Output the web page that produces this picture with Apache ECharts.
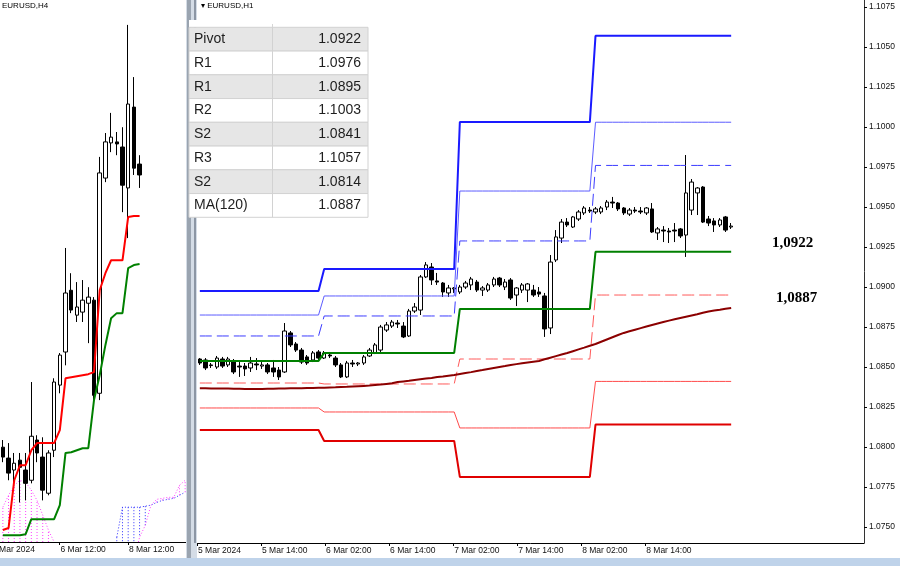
<!DOCTYPE html>
<html><head><meta charset="utf-8">
<script src="https://cdn.jsdelivr.net/npm/echarts@6/dist/echarts.min.js"></script>
<style>html,body{margin:0;padding:0;background:#fff}#c{width:900px;height:566px}</style>
</head><body><div id="c"></div>
<script>
// ---------- H1 (right panel) data: [open, close, low, high] ----------
const h1Candles = [
[1.08550,1.08525,1.08513,1.08556],[1.08544,1.08494,1.08481,1.08556],[1.08513,1.08509,1.08494,1.08525],[1.08500,1.08556,1.08488,1.08569],
[1.08550,1.08506,1.08494,1.08563],[1.08513,1.08550,1.08500,1.08563],[1.08538,1.08469,1.08456,1.08550],[1.08506,1.08500,1.08438,1.08531],
[1.08506,1.08488,1.08444,1.08525],[1.08494,1.08525,1.08469,1.08563],[1.08519,1.08513,1.08481,1.08556],[1.08506,1.08513,1.08488,1.08531],
[1.08513,1.08469,1.08456,1.08525],[1.08494,1.08469,1.08438,1.08544],[1.08481,1.08438,1.08419,1.08500],[1.08469,1.08725,1.08463,1.08775],
[1.08713,1.08638,1.08625,1.08725],[1.08644,1.08606,1.08594,1.08656],[1.08606,1.08531,1.08519,1.08619],[1.08563,1.08525,1.08513,1.08575],
[1.08544,1.08588,1.08531,1.08600],[1.08594,1.08556,1.08544,1.08606],[1.08556,1.08588,1.08550,1.08600],[1.08575,1.08569,1.08556,1.08594],
[1.08556,1.08513,1.08500,1.08569],[1.08513,1.08438,1.08431,1.08525],[1.08438,1.08525,1.08431,1.08538],[1.08525,1.08519,1.08500,1.08544],
[1.08519,1.08525,1.08506,1.08531],[1.08525,1.08563,1.08513,1.08575],[1.08569,1.08606,1.08563,1.08619],[1.08588,1.08638,1.08581,1.08650],
[1.08606,1.08750,1.08594,1.08763],[1.08731,1.08763,1.08719,1.08781],[1.08756,1.08781,1.08744,1.08794],[1.08775,1.08769,1.08744,1.08794],
[1.08756,1.08688,1.08681,1.08781],[1.08694,1.08850,1.08688,1.08863],[1.08850,1.08875,1.08838,1.08900],[1.08856,1.09063,1.08825,1.09075],
[1.09063,1.09138,1.09056,1.09156],[1.09125,1.09044,1.09013,1.09150],[1.09038,1.09031,1.09013,1.09088],[1.09025,1.08969,1.08938,1.09031],
[1.08963,1.08994,1.08938,1.09013],[1.08988,1.08994,1.08963,1.09000],[1.08969,1.09000,1.08956,1.09013],[1.09000,1.09025,1.08988,1.09038],
[1.09013,1.09050,1.08981,1.09063],[1.09031,1.08981,1.08969,1.09044],[1.08981,1.08994,1.08944,1.09006],[1.08981,1.09013,1.08969,1.09025],
[1.09013,1.09050,1.09000,1.09063],[1.09056,1.09013,1.09000,1.09063],[1.09000,1.09031,1.08981,1.09050],[1.09044,1.08931,1.08919,1.09056],
[1.08950,1.08994,1.08881,1.09000],[1.08981,1.09013,1.08963,1.09025],[1.08981,1.09019,1.08906,1.09025],[1.08981,1.08950,1.08938,1.09013],
[1.08969,1.08956,1.08938,1.09000],[1.08944,1.08738,1.08688,1.08963],[1.08744,1.09156,1.08706,1.09200],[1.09169,1.09313,1.09156,1.09356],
[1.09306,1.09406,1.09275,1.09425],[1.09406,1.09388,1.09375,1.09431],[1.09375,1.09438,1.09369,1.09444],[1.09425,1.09469,1.09413,1.09481],
[1.09463,1.09494,1.09450,1.09506],[1.09481,1.09475,1.09463,1.09500],[1.09469,1.09488,1.09456,1.09500],[1.09469,1.09494,1.09456,1.09506],
[1.09500,1.09531,1.09481,1.09544],[1.09531,1.09525,1.09494,1.09563],[1.09525,1.09488,1.09475,1.09531],[1.09494,1.09463,1.09450,1.09500],
[1.09456,1.09481,1.09444,1.09494],[1.09481,1.09475,1.09463,1.09500],[1.09475,1.09469,1.09456,1.09500],[1.09463,1.09494,1.09450,1.09500],
[1.09488,1.09344,1.09338,1.09525],[1.09338,1.09363,1.09294,1.09375],[1.09356,1.09350,1.09281,1.09381],[1.09350,1.09344,1.09275,1.09369],
[1.09356,1.09350,1.09281,1.09400],[1.09363,1.09319,1.09306,1.09369],[1.09325,1.09588,1.09188,1.09825],[1.09481,1.09656,1.09450,1.09675],
[1.09588,1.09619,1.09450,1.09625],[1.09625,1.09406,1.09400,1.09631],[1.09425,1.09400,1.09381,1.09444],[1.09413,1.09388,1.09344,1.09431],
[1.09388,1.09419,1.09375,1.09431],[1.09438,1.09356,1.09344,1.09444],[1.09375,1.09381,1.09363,1.09400]
];
const ma120 = [
1.08367,1.08367,1.08366,1.08366,1.08365,1.08365,1.08364,1.08364,1.08363,1.08363,
1.08363,1.08363,1.08364,1.08364,1.08365,1.08366,1.08367,1.08367,1.08368,1.08369,
1.08369,1.08370,1.08371,1.08372,1.08373,1.08375,1.08376,1.08378,1.08380,1.08382,
1.08384,1.08387,1.08390,1.08394,1.08398,1.08406,1.08410,1.08414,1.08419,1.08424,
1.08428,1.08432,1.08437,1.08441,1.08446,1.08450,1.08456,1.08462,1.08468,1.08475,
1.08481,1.08488,1.08494,1.08500,1.08506,1.08513,1.08518,1.08523,1.08528,1.08533,
1.08538,1.08548,1.08558,1.08568,1.08578,1.08588,1.08599,1.08610,1.08621,1.08633,
1.08644,1.08658,1.08672,1.08686,1.08700,1.08713,1.08723,1.08733,1.08743,1.08753,
1.08763,1.08772,1.08781,1.08790,1.08798,1.08806,1.08814,1.08822,1.08830,1.08839,
1.08847,1.08853,1.08858,1.08864,1.08869
];
// daily pivot levels (one value per day)
const dayStart = [0, 22, 46, 70];
const lastBar = 94;
const R3 = [1.08975, 1.09113, 1.10031, 1.1057];
const R2 = [1.08825, 1.08944, 1.09600, 1.1003];
const R1 = [1.08694, 1.08819, 1.09288, 1.0976];
const PP = [1.08538, 1.08588, 1.08863, 1.0922];
const S1 = [1.08400, 1.08394, 1.08550, 1.0895];
const S2 = [1.08244, 1.08219, 1.08119, 1.0841];
const S3 = [1.08106, 1.08038, 1.07813, 1.0814];
const lastPrice = 1.0938;
const priceTicks = [1.0750,1.0775,1.0800,1.0825,1.0850,1.0875,1.0900,1.0925,1.0950,1.0975,1.1000,1.1025,1.1050,1.1075];
const h1TickLabels = ['5 Mar 2024','5 Mar 14:00','6 Mar 02:00','6 Mar 14:00','7 Mar 02:00','7 Mar 14:00','8 Mar 02:00','8 Mar 14:00'];

// ---------- H4 (left panel) data ----------
const h4Candles = [
[1.08582,1.08553,1.08538,1.08603],[1.08550,1.08506,1.08485,1.08594],[1.08515,1.08535,1.08465,1.08565],[1.08544,1.08523,1.08420,1.08565],
[1.08515,1.08476,1.08426,1.08565],[1.08485,1.08614,1.08476,1.08773],[1.08603,1.08565,1.08538,1.08617],[1.08553,1.08456,1.08426,1.08611],
[1.08447,1.08565,1.08441,1.08573],[1.08573,1.08773,1.08553,1.08784],[1.08764,1.08852,1.08740,1.08858],[1.08861,1.09034,1.08822,1.09166],
[1.09042,1.08984,1.08975,1.09092],[1.08969,1.08993,1.08949,1.09066],[1.08978,1.09013,1.08949,1.09072],[1.09004,1.09022,1.08887,1.09051],
[1.09013,1.08734,1.08696,1.09022],[1.08740,1.09386,1.08720,1.09433],[1.09371,1.09477,1.09359,1.09503],[1.09474,1.09491,1.09447,1.09562],
[1.09477,1.09471,1.09438,1.09506],[1.09462,1.09350,1.09271,1.09520],[1.09342,1.09588,1.09195,1.09820],[1.09579,1.09400,1.09380,1.09667],
[1.09412,1.09380,1.09342,1.09438]
];
const h4Tenkan = [1.08339,1.08345,1.08485,1.08529,1.08529,1.08573,1.08594,1.08594,1.08594,1.08594,1.08632,1.08784,1.08787,1.08790,1.08793,1.08796,1.08802,1.09042,1.09092,1.09130,1.09130,1.09130,1.09257,1.09260,1.09260];
const h4Kijun = [1.08324,1.08324,1.08324,1.08324,1.08327,1.08371,1.08371,1.08371,1.08371,1.08371,1.08412,1.08565,1.08567,1.08573,1.08579,1.08579,1.08720,1.08793,1.08881,1.08960,1.08975,1.08975,1.09107,1.09116,1.09119];
// Ichimoku cloud spans (null = not drawn)
const spanA = [1.0825,1.0825,1.0825,1.0825,1.0825,1.0825,1.0825,1.0825,1.0825,1.0825,null,null,null,null,null,null,null,null,null,null,1.08318,1.08406,1.08406,1.08406,1.08406,1.08409,1.08412,1.08420,1.08426,1.08429,1.08432,1.08441,1.08450];
const spanB = [1.08406,1.08441,1.08470,1.08485,1.08479,1.08456,1.08426,1.08383,1.08339,1.08304,null,null,null,null,null,null,null,null,null,null,1.0825,1.0825,1.0825,1.0825,1.08318,1.08353,1.08412,1.08429,1.08432,1.08435,1.08435,1.08470,1.08485];
const h4TickLabels = ['5 Mar 2024','6 Mar 12:00','8 Mar 12:00'];

const tableLabels = ['Pivot','R1','R1','R2','S2','R3','S2','MA(120)'];
const tableValues = ['1.0922','1.0976','1.0895','1.1003','1.0841','1.1057','1.0814','1.0887'];

// ---------- build ----------
const H1_BANDS = 118, H1_LABEL_SLOTS = 126;
const h1Cats = []; for (let i = 0; i < H1_BANDS; i++) h1Cats.push('h' + i);
const h1LabelCats = []; for (let i = 0; i < H1_LABEL_SLOTS; i++) h1LabelCats.push(i % 12 === 0 && i / 12 < h1TickLabels.length ? h1TickLabels[i / 12] : '');
const h1LabelShow = (i) => i % 12 === 0 && i / 12 < h1TickLabels.length;
function expand(levels) {
  const out = [];
  for (let i = 0; i <= lastBar; i++) {
    let d = 0; for (let k = 0; k < dayStart.length; k++) if (i >= dayStart[k]) d = k;
    out.push(levels[d]);
  }
  return out;
}
const H4_BANDS = 33, H4_LABEL_SLOTS = 35;
const h4Cats = []; for (let i = 0; i < H4_BANDS; i++) h4Cats.push('b' + i);
const h4LabelCats = []; for (let i = 0; i < H4_LABEL_SLOTS; i++) h4LabelCats.push(i % 12 === 0 && i / 12 < h4TickLabels.length ? h4TickLabels[i / 12] : '');
const h4LabelShow = (i) => i % 12 === 0 && i / 12 < h4TickLabels.length;
const cloudData = spanA.map((a, i) => [i, a, spanB[i]]).filter(d => d[1] != null && d[2] != null);

const FONT = 'Liberation Sans';
const AXF = 8.5;
const candleStyle = {color:'#ffffff', color0:'#000000', borderColor:'#000000', borderColor0:'#000000', borderWidth:1};
function lvl(name, data, color, width, type) {
  return {name, type:'line', xAxisIndex:0, yAxisIndex:0, data: expand(data), symbol:'none', showSymbol:false,
    lineStyle:{color, width, type: type || 'solid'}, silent:true, z:3};
}

const chart = echarts.init(document.getElementById('c'), null, {renderer:'canvas'});
const option = {
  animation:false,
  backgroundColor:'#ffffff',
  textStyle:{fontFamily:FONT},
  grid:[
    {left:197, top:0, width:667, height:543, outerBoundsMode:'none', containLabel:false},
    {left:0, top:0, width:188, height:542, outerBoundsMode:'none', containLabel:false},
    {left:-9, top:0, width:194, height:542, outerBoundsMode:'none', containLabel:false}
  ],
  xAxis:[
    {type:'category', gridIndex:0, data:h1Cats, boundaryGap:true, axisLine:{show:true, lineStyle:{color:'#000', width:1}}, axisTick:{show:false}, axisLabel:{show:false}, splitLine:{show:false}},
    {type:'category', gridIndex:0, data:h1LabelCats, boundaryGap:false, position:'bottom', axisLine:{show:false},
      axisTick:{show:true, interval:(i)=>h1LabelShow(i), length:3, lineStyle:{color:'#000'}},
      axisLabel:{show:true, interval:(i)=>h1LabelShow(i), align:'left', fontSize:AXF, fontFamily:FONT, color:'#111', margin:3, padding:[0,0,0,1]}, splitLine:{show:false}},
    {type:'category', gridIndex:1, data:h4Cats, boundaryGap:true, axisLine:{show:true, lineStyle:{color:'#000', width:1}}, axisTick:{show:false}, axisLabel:{show:false}},
    {type:'category', gridIndex:2, data:h4LabelCats, boundaryGap:false, axisLine:{show:false},
      axisTick:{show:true, interval:(i)=>h4LabelShow(i), length:3, lineStyle:{color:'#000'}},
      axisLabel:{show:true, interval:(i)=>h4LabelShow(i), align:'left', fontSize:AXF, fontFamily:FONT, color:'#111', margin:3, padding:[0,0,0,1]}}
  ],
  yAxis:[
    {type:'value', gridIndex:0, position:'right', min:1.0740, max:1.10794, splitLine:{show:false},
      axisLine:{show:true, lineStyle:{color:'#333', width:1}},
      axisTick:{show:true, length:3, customValues:priceTicks, lineStyle:{color:'#000'}},
      axisLabel:{show:true, customValues:priceTicks, formatter:(v)=>v.toFixed(4), fontSize:AXF, fontFamily:FONT, color:'#111', margin:5}},
    {type:'value', gridIndex:1, min:1.08304, max:1.09893, show:false, splitLine:{show:false}},
    {type:'value', gridIndex:2, min:0, max:1, show:false, splitLine:{show:false}}
  ],
  series:[
    {name:'H1', type:'candlestick', xAxisIndex:0, yAxisIndex:0, data:h1Candles, barWidth:4, itemStyle:candleStyle, z:2,
      markLine:{silent:true, symbol:'none', lineStyle:{opacity:0}, data:[{yAxis:lastPrice}],
        label:{show:true, position:'end', formatter:lastPrice.toFixed(4), backgroundColor:'#000', color:'#fff', fontSize:AXF, fontFamily:FONT, padding:[2,4,1,4], distance:0}}},
    lvl('R3', R3, '#1a1aff', 2),
    lvl('R2', R2, '#5c5cff', 1),
    lvl('R1', R1, '#3c3cff', 1, [12,5]),
    lvl('Pivot', PP, '#008000', 2),
    lvl('S1', S1, '#ff5a5a', 1, [12,5]),
    lvl('S2', S2, '#ff4a4a', 1),
    lvl('S3', S3, '#e00000', 2),
    {name:'MA(120)', type:'line', xAxisIndex:0, yAxisIndex:0, data:ma120, symbol:'none', lineStyle:{color:'#8b0000', width:2}, z:3},
    // left panel
    {name:'cloud', type:'custom', xAxisIndex:2, yAxisIndex:1, data:cloudData, z:1,
      renderItem:(params, api) => {
        const cs = params.coordSys;
        const a = api.value(1), b = api.value(2);
        const pa = api.coord([api.value(0), a]), pb = api.coord([api.value(0), b]);
        const bottom = cs.y + cs.height;
        const y1 = Math.min(pa[1], bottom), y2 = Math.min(pb[1], bottom);
        return {type:'line', shape:{x1:pa[0], y1:y1, x2:pb[0], y2:y2},
          style:{stroke: a > b ? '#3030ff' : '#ff40ff', lineWidth:1, lineDash:[1,2]}};
      }},
    {name:'spanA', type:'line', xAxisIndex:2, yAxisIndex:1, data:spanA, symbol:'none', connectNulls:false, lineStyle:{color:'#3030ff', width:1, type:[1,2]}, z:1},
    {name:'spanB', type:'line', xAxisIndex:2, yAxisIndex:1, data:spanB, symbol:'none', connectNulls:false, lineStyle:{color:'#ff40ff', width:1, type:[1,2]}, z:1},
    {name:'H4', type:'candlestick', xAxisIndex:2, yAxisIndex:1, data:h4Candles, barWidth:4, itemStyle:candleStyle, z:2},
    {name:'Tenkan', type:'line', xAxisIndex:2, yAxisIndex:1, data:h4Tenkan, symbol:'none', lineStyle:{color:'#ff0000', width:2}, z:3},
    {name:'Kijun', type:'line', xAxisIndex:2, yAxisIndex:1, data:h4Kijun, symbol:'none', lineStyle:{color:'#008000', width:2}, z:3}
  ]
};
chart.setOption(option);

// ---------- decorations ----------
const yPivot = chart.convertToPixel({yAxisIndex:0}, PP[3]);
const yMA = chart.convertToPixel({yAxisIndex:0}, ma120[ma120.length - 1]);
const g = [];
// bottom frame
g.push({type:'rect', shape:{x:0, y:558, width:900, height:8}, style:{fill:'#bfd3ea'}, z:50});
// separator between panels
g.push({type:'rect', shape:{x:186, y:0, width:11, height:558}, style:{fill:'#d4dce6'}, z:50});
g.push({type:'rect', shape:{x:187, y:0, width:4, height:558}, style:{fill:'#9aa4b0'}, z:51});
g.push({type:'rect', shape:{x:194, y:0, width:2, height:543}, style:{fill:'#8c96a4'}, z:51});
// titles
g.push({type:'text', x:2, y:2, style:{text:'EURUSD,H4', fontSize:8, fontFamily:FONT, fill:'#000'}, z:60});
g.push({type:'text', x:201, y:2, style:{text:'\u25BE EURUSD,H1', fontSize:8, fontFamily:FONT, fill:'#000'}, z:60});
// table (drawn above the separator)
const tX = 189, tDiv = 272.5, tR = 368, tTop = 27.3, rowH = 23.75;
g.push({type:'rect', shape:{x:tX, y:20, width:tR - tX, height:tTop - 20}, style:{fill:'#ffffff'}, z:60});
g.push({type:'line', shape:{x1:tDiv, y1:24, x2:tDiv, y2:tTop}, style:{stroke:'#d6d6d6', lineWidth:1}, z:62});
tableLabels.forEach((lab, k) => {
  const y0 = tTop + k * rowH;
  g.push({type:'rect', shape:{x:tX, y:y0, width:tR - tX, height:rowH}, style:{fill: k % 2 === 0 ? '#e6e6e6' : '#ffffff', stroke:'#d2d2d2', lineWidth:1}, z:60});
  g.push({type:'line', shape:{x1:tDiv, y1:y0, x2:tDiv, y2:y0 + rowH}, style:{stroke:'#d2d2d2', lineWidth:1}, z:62});
  g.push({type:'text', x:194, y:y0 + rowH / 2, style:{text:lab, fontSize:14, fontFamily:FONT, fill:'#1e1e1e', verticalAlign:'middle', align:'left'}, z:63});
  g.push({type:'text', x:361, y:y0 + rowH / 2, style:{text:tableValues[k], fontSize:14, fontFamily:FONT, fill:'#1e1e1e', verticalAlign:'middle', align:'right'}, z:63});
});
// level annotations
g.push({type:'text', x:772, y:yPivot - 9, style:{text:PP[3].toFixed(4).replace('.', ','), fontSize:15, fontWeight:'bold', fontFamily:'Liberation Serif', fill:'#000', verticalAlign:'middle'}, z:60});
g.push({type:'text', x:776, y:yMA - 10, style:{text:ma120[ma120.length - 1].toFixed(4).replace('.', ','), fontSize:15, fontWeight:'bold', fontFamily:'Liberation Serif', fill:'#000', verticalAlign:'middle'}, z:60});
chart.setOption({graphic:{elements:g}});
</script></body></html>
